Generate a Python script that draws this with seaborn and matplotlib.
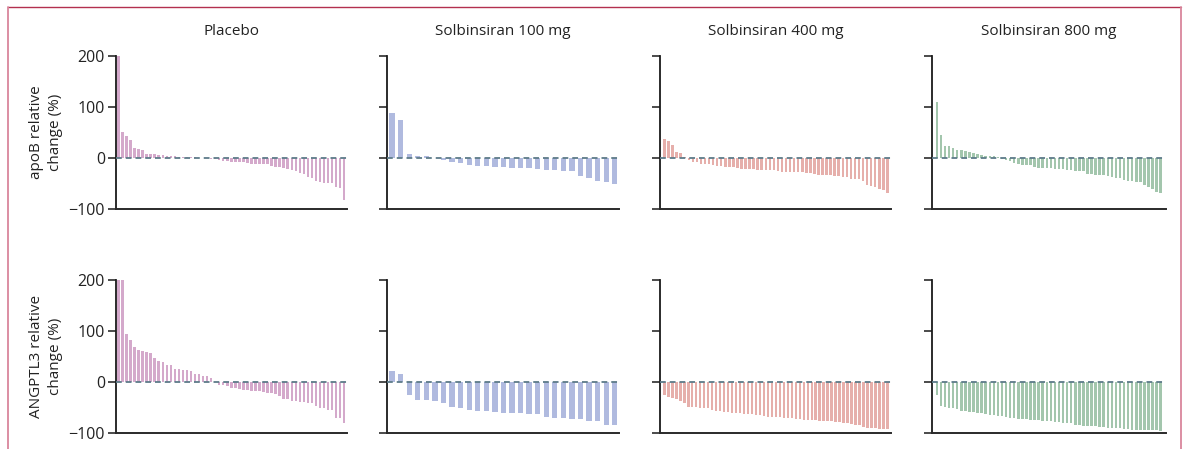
import matplotlib
matplotlib.use("Agg")
import matplotlib.pyplot as plt
import seaborn as sns
import numpy as np
import pandas as pd
from matplotlib.lines import Line2D

# ---------------- data ----------------
groups = ["Placebo", "Solbinsiran 100 mg", "Solbinsiran 400 mg", "Solbinsiran 800 mg"]
row_labels = ["apoB relative\nchange (%)", "ANGPTL3 relative\nchange (%)"]
yticks = [-100, 0, 100, 200]

apob_placebo = [200, 51, 43, 35, 20, 18, 16, 8, 8, 8, 6, 6, 4, 4, 3, 2, 2, 1, 1, 1, 0, 0, 0,
                -1, -2, -4, -6, -6, -8, -8, -8, -8, -10, -12, -12, -12, -12, -12, -16, -18, -18,
                -20, -22, -24, -26, -29, -31, -37, -39, -45, -47, -49, -49, -49, -57, -59, -82]
apob_100 = [88, 75, 8, 4, 4, 0, -4, -8, -10, -14, -16, -16, -18, -18, -20, -20, -20, -22, -24,
            -24, -26, -26, -35, -39, -45, -47, -51]
apob_400 = [37, 33, 25, 12, 10, 2, -4, -8, -8, -12, -12, -12, -14, -16, -16, -18, -18, -18, -20,
            -22, -22, -22, -22, -24, -24, -24, -24, -24, -26, -27, -27, -27, -27, -27, -27, -29,
            -29, -31, -33, -33, -33, -33, -35, -35, -37, -37, -41, -41, -41, -45, -53, -55, -57,
            -61, -63, -69]
apob_800 = [110, 45, 24, 24, 20, 16, 16, 14, 12, 10, 8, 6, 4, 4, 4, 2, -2, -4, -6, -10, -12, -14,
            -14, -14, -18, -20, -20, -20, -20, -22, -22, -22, -24, -24, -26, -26, -26, -31, -31,
            -33, -33, -33, -35, -37, -39, -39, -43, -45, -45, -47, -47, -53, -57, -61, -67, -69]

angptl3_placebo = [200, 200, 94, 82, 69, 63, 61, 59, 57, 47, 41, 39, 33, 33, 25, 25, 24, 24, 21,
                   16, 16, 12, 12, 8, 0, -6, -6, -8, -12, -12, -14, -16, -16, -18, -18, -18, -20,
                   -22, -22, -24, -27, -33, -33, -37, -37, -39, -39, -41, -41, -47, -51, -51, -55,
                   -55, -71, -71, -80]
angptl3_100 = [22, 16, -25, -35, -35, -37, -41, -49, -51, -55, -57, -57, -59, -61, -61, -61, -63,
               -63, -69, -71, -71, -73, -73, -76, -76, -84, -84]
angptl3_400 = [-25, -29, -31, -33, -37, -41, -49, -49, -49, -51, -51, -51, -55, -57, -57, -59, -59,
               -61, -61, -61, -63, -63, -63, -65, -65, -67, -69, -69, -69, -69, -71, -71, -71, -73,
               -73, -75, -75, -75, -75, -76, -76, -76, -76, -78, -78, -80, -80, -82, -84, -84, -88,
               -90, -90, -90, -92, -92, -92]
angptl3_800 = [-25, -47, -49, -51, -51, -53, -57, -57, -59, -59, -61, -61, -63, -65, -65, -67, -67,
               -69, -71, -71, -73, -73, -73, -75, -75, -75, -76, -76, -76, -78, -78, -80, -80, -80,
               -84, -84, -86, -86, -86, -86, -88, -88, -90, -90, -90, -90, -92, -92, -94, -94, -94,
               -94, -94, -94, -94, -96]

data = [[apob_placebo, apob_100, apob_400, apob_800],
        [angptl3_placebo, angptl3_100, angptl3_400, angptl3_800]]

colors = ["#d4a9cb", "#b0badf", "#e6afab", "#a3c6ad"]

# ---------------- style ----------------
sns.set_theme(style="white")
plt.rcParams["font.family"] = ["Open Sans", "DejaVu Sans"]
plt.rcParams["text.color"] = "#222222"

W, H = 1187, 449
fig = plt.figure(figsize=(W / 100, H / 100), dpi=100)

col_left = [116, 387, 660, 932]
col_right = [347, 619, 891, 1166]
row_top = [56, 280]
row_h = 153
left_pad = [0.6, 0.6, 1.1, 1.2]
right_pad = [0.7, 0.5, 0.9, 1.3]

for r in range(2):
    for c in range(4):
        vals = data[r][c]
        n = len(vals)
        x0, x1 = col_left[c], col_right[c]
        ax = fig.add_axes([x0 / W, 1 - (row_top[r] + row_h) / H, (x1 - x0) / W, row_h / H])
        df = pd.DataFrame({"idx": np.arange(n), "val": vals})
        sns.barplot(data=df, x="idx", y="val", ax=ax, color=colors[c], saturation=1,
                    width=0.62, linewidth=0, errorbar=None, zorder=2)
        ax.axhline(0, color="#5d7b89", lw=1.3, ls=(0, (3.2, 2.2)), zorder=3)
        ax.set_xlim(-left_pad[c], n - 1 + right_pad[c])
        ax.set_ylim(-100, 200)
        ax.set_yticks(yticks)
        ax.set_xticks([])
        ax.set_xlabel("")
        ax.set_ylabel("")
        for s in ["top", "right"]:
            ax.spines[s].set_visible(False)
        ax.spines["left"].set_color("#1a1a1a")
        ax.spines["left"].set_linewidth(1.3)
        ax.spines["bottom"].set_color("#2a2a2a")
        ax.spines["bottom"].set_linewidth(1.4)
        ax.tick_params(axis="y", direction="out", length=6, width=1.1, color="#1a1a1a",
                       labelsize=11.5, labelcolor="#222222", pad=2, left=True)
        if c == 0:
            ax.set_yticklabels(["\u2212100", "0", "100", "200"])
            ax.set_ylabel(row_labels[r], fontsize=11, labelpad=4, linespacing=1.35,
                          color="#222222")
        else:
            ax.set_yticklabels([])
        if r == 0:
            ax.set_title(groups[c], fontsize=11, pad=15, color="#222222")

# frame around the figure
fig.add_artist(Line2D([8 / W, 1181 / W], [1 - 7 / H, 1 - 7 / H], transform=fig.transFigure,
                      color="#b3304f", lw=1.0))
fig.add_artist(Line2D([8 / W, 8 / W], [1 - 7 / H, 0], transform=fig.transFigure,
                      color="#d9869c", lw=1.3))
fig.add_artist(Line2D([1181 / W, 1181 / W], [1 - 7 / H, 0], transform=fig.transFigure,
                      color="#d9869c", lw=1.3))

fig.savefig("out.png", dpi=100)
